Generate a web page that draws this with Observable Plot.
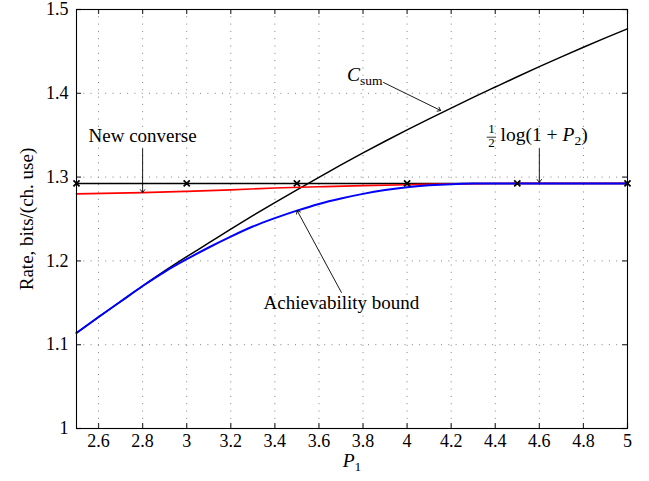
<!DOCTYPE html>
<html><head><meta charset="utf-8">
<script src="https://cdn.jsdelivr.net/npm/d3@7"></script>
<script src="https://cdn.jsdelivr.net/npm/@observablehq/plot@0.6"></script>
<style>body{margin:0;background:#fff} svg{display:block}</style>
</head><body><div id="chart"></div>
<script>
// ---- data ----
const xTicks = [2.6, 2.8, 3.0, 3.2, 3.4, 3.6, 3.8, 4.0, 4.2, 4.4, 4.6, 4.8, 5.0];
const yTicks = [1.0, 1.1, 1.2, 1.3, 1.4, 1.5];

const csumX = [2.5, 2.6, 2.7, 2.8, 2.9, 3.0, 3.1, 3.2, 3.3, 3.4, 3.5, 3.6, 3.7, 3.8, 3.9, 4.0, 4.1, 4.2, 4.3, 4.4, 4.5, 4.6, 4.7, 4.8, 4.9, 5.0];
const csumY = [1.114, 1.133, 1.1515, 1.170, 1.188, 1.205, 1.2215, 1.238, 1.254, 1.2695, 1.2847, 1.2997, 1.3145, 1.3289, 1.3428, 1.3563, 1.3695, 1.3824, 1.3951, 1.4075, 1.4198, 1.4318, 1.4435, 1.4549, 1.4661, 1.477];

const achX = [2.5, 2.6, 2.7, 2.8, 2.9, 3.0, 3.1, 3.2, 3.3, 3.4, 3.5, 3.6, 3.7, 3.8, 3.9, 4.0, 4.1, 4.2, 4.3, 4.4, 4.6, 4.8, 5.0];
const achY = [1.114, 1.133, 1.1515, 1.170, 1.187, 1.202, 1.216, 1.229, 1.241, 1.251, 1.260, 1.268, 1.2745, 1.280, 1.2845, 1.288, 1.2902, 1.2916, 1.2923, 1.2925, 1.2925, 1.2925, 1.2925];

const convX = [2.5, 2.8, 3.0, 3.2, 3.4, 3.6, 3.8, 4.0, 4.2, 4.4, 4.6, 5.0];
const convY = [1.280, 1.2815, 1.283, 1.2848, 1.287, 1.2885, 1.2898, 1.2909, 1.2919, 1.2924, 1.2925, 1.2925];

const halfLog = 1.2925;               // ½ log(1+P2)
const markX = [2.5, 3.0, 3.5, 4.0, 4.5, 5.0];

// annotations (arrow tail -> head, label positions)
const arrowX1 = [3.893, 2.8, 4.6, 3.702];
const arrowY1 = [1.4129, 1.3338, 1.3338, 1.1623];
const arrowX2 = [4.152, 2.8, 4.6, 3.501];
const arrowY2 = [1.3795, 1.2816, 1.2937, 1.2601];

const labelText = ["New converse", "Achievability bound"];
const labelX = [2.8, 3.702];
const labelY = [1.3417, 1.1428];

// ---- layout ----
const W = 649, H = 481, mL = 76, mR = 22, mT = 9, mB = 53;
const plotW = W - mL - mR, plotH = H - mT - mB;
const fmt = d => String(+d.toFixed(1));
const font = "'Liberation Serif', 'Times New Roman', serif";

const zip = (xs, ys) => xs.map((x, i) => ({x, y: ys[i]}));
const arrows = arrowX1.map((x1, i) => ({x1, y1: arrowY1[i], x2: arrowX2[i], y2: arrowY2[i]}));
const labels = labelText.map((t, i) => ({t, x: labelX[i], y: labelY[i]}));

const chart = Plot.plot({
  width: W, height: H,
  marginLeft: mL, marginRight: mR, marginTop: mT, marginBottom: mB,
  style: {fontFamily: font, fontSize: "18px", background: "white", color: "black"},
  x: {domain: [2.5, 5], axis: null},
  y: {domain: [1, 1.5], axis: null},
  marks: [
    // dotted grid
    Plot.ruleX(xTicks, {x: d => d, stroke: "#808080", strokeDasharray: "1,6.3", strokeWidth: 1}),
    Plot.ruleY(yTicks, {y: d => d, stroke: "#808080", strokeDasharray: "1,6.3", strokeWidth: 1}),
    // inward ticks
    Plot.tickX(xTicks, {x: d => d, insetTop: plotH - 5, stroke: "#333", strokeWidth: 1.2}),
    Plot.tickX(xTicks, {x: d => d, insetBottom: plotH - 5, stroke: "#333", strokeWidth: 1.2}),
    Plot.tickY(yTicks, {y: d => d, insetRight: plotW - 5, stroke: "#333", strokeWidth: 1.2}),
    Plot.tickY(yTicks, {y: d => d, insetLeft: plotW - 5, stroke: "#333", strokeWidth: 1.2}),
    // tick labels
    Plot.axisX(xTicks, {tickSize: 0, tickPadding: 6, tickFormat: fmt, label: null, fontSize: 18}),
    Plot.axisY(yTicks, {tickSize: 0, tickPadding: 8, tickFormat: fmt, label: null, fontSize: 18}),
    // series
    Plot.lineY(markX, {x: d => d, y: () => halfLog, stroke: "black", strokeWidth: 1.5}),
    Plot.line(zip(csumX, csumY), {x: "x", y: "y", stroke: "black", strokeWidth: 1.5, curve: "monotone-x"}),
    Plot.line(zip(convX, convY), {x: "x", y: "y", stroke: "#ff0000", strokeWidth: 1.6, curve: "monotone-x"}),
    Plot.line(zip(achX, achY), {x: "x", y: "y", stroke: "#0000ff", strokeWidth: 2, curve: "monotone-x"}),
    Plot.dot(markX, {x: d => d, y: () => halfLog, symbol: "times", r: 2.9, stroke: "black", strokeWidth: 1.7}),
    Plot.frame({stroke: "black", strokeWidth: 1.1}),
    // annotations
    Plot.arrow(arrows, {x1: "x1", y1: "y1", x2: "x2", y2: "y2", stroke: "black", strokeWidth: 0.9, headLength: 6, headAngle: 75}),
    Plot.text(labels, {x: "x", y: "y", text: "t", textAnchor: "middle", lineAnchor: "bottom", fontSize: 19, letterSpacing: 0.9}),
    Plot.text(["Csum"], {x: () => 3.888, y: () => 1.4141, textAnchor: "end", lineAnchor: "bottom", fontSize: 19.5}),
    Plot.text(["1"], {x: () => 4.383, y: () => 1.3574, textAnchor: "middle", lineAnchor: "middle", fontSize: 13}),
    Plot.text(["2"], {x: () => 4.383, y: () => 1.3413, textAnchor: "middle", lineAnchor: "middle", fontSize: 13}),
    Plot.ruleY([{y: 1.3476, x1: 4.3634, x2: 4.4056}], {y: "y", x1: "x1", x2: "x2", stroke: "black", strokeWidth: 0.8}),
    Plot.text(["log(1 + P2)"], {x: () => 4.424, y: () => 1.3432, textAnchor: "start", lineAnchor: "bottom", fontSize: 19.5, letterSpacing: 0.6}),
    // axis titles
    Plot.text(["Rate, bits/(ch. use)"], {frameAnchor: "left", dx: -50, rotate: -90, textAnchor: "middle", lineAnchor: "middle", fontSize: 19, letterSpacing: 0.9}),
    Plot.text(["P1"], {frameAnchor: "bottom", dy: 32, textAnchor: "middle", lineAnchor: "middle", fontSize: 19.5})
  ]
});

// typeset subscripts / italics as real text
const rich = {
  "Csum": '<tspan font-style="italic">C</tspan><tspan font-size="13.5" dy="4">sum</tspan>',
  "P1": '<tspan font-style="italic">P</tspan><tspan font-size="13.5" dy="4">1</tspan>',
  "log(1 + P2)": 'log(1 + <tspan font-style="italic">P</tspan><tspan font-size="13.5" dy="4">2</tspan><tspan dy="-4">)</tspan>'
};
d3.select(chart).selectAll("text").each(function () {
  const t = this.textContent;
  if (rich[t] && this.children.length === 0) this.innerHTML = rich[t];
});

document.getElementById("chart").appendChild(chart);
</script>
</body></html>
